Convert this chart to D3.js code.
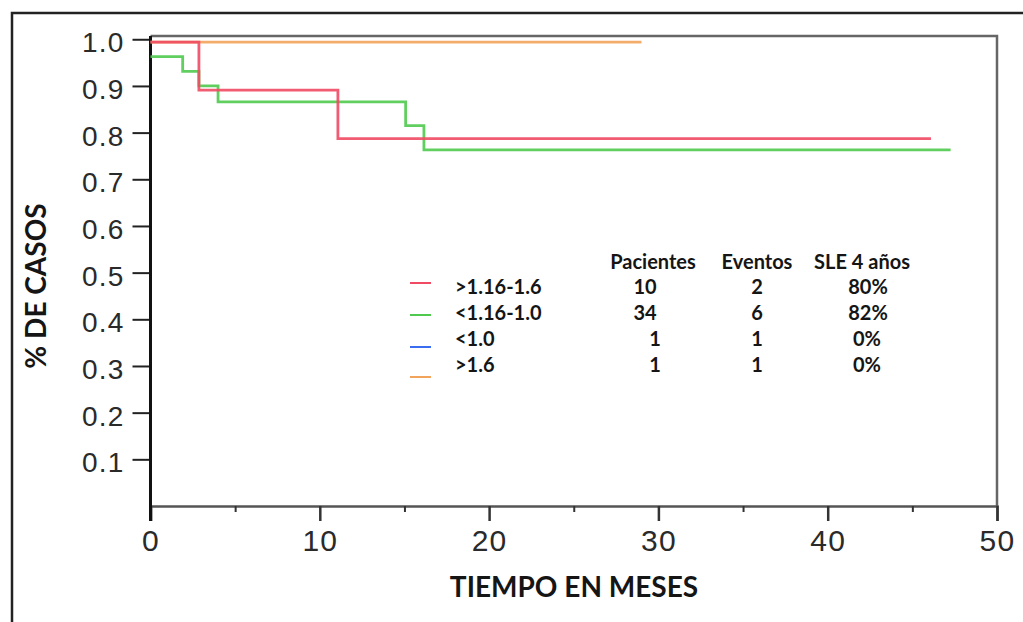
<!DOCTYPE html>
<html>
<head>
<meta charset="utf-8">
<script src="https://cdn.jsdelivr.net/npm/d3@7"></script>
<style>
  html, body { margin: 0; padding: 0; background: #fff; }
  svg { display: block; }
</style>
</head>
<body>
<svg id="chart" width="1023" height="622"></svg>
<script>
// ---------- data ----------
const seriesNames = [">1.16-1.6", "<1.16-1.0", "<1.0", ">1.6"];
const seriesColors = ["#f04a64", "#4fca4f", "#3a6df0", "#f2a35c"];
// step curves: times (months) and survival proportion after each time
const redTimes   = [0, 2.86, 11.07, 46.1];
const redValues  = [0.994, 0.891, 0.787, 0.787];
const greenTimes = [0, 1.9, 2.86, 3.99, 15.07, 16.15, 47.26];
const greenValues= [0.963, 0.931, 0.900, 0.866, 0.815, 0.763, 0.763];
const orangeTimes  = [0, 29.0];
const orangeValues = [0.994, 0.994];
// legend table
const colPacientes = [10, 34, 1, 1];
const colEventos   = [2, 6, 1, 1];
const colSLE       = ["80%", "82%", "0%", "0%"];
const tableHeaders = ["Pacientes", "Eventos", "SLE 4 años"];
const xTicks = [0, 10, 20, 30, 40, 50];
const xMinorTicks = [5, 15, 25, 35, 45];
const yTicks = [0.1, 0.2, 0.3, 0.4, 0.5, 0.6, 0.7, 0.8, 0.9, 1.0];
const xTitle = "TIEMPO EN MESES";
const yTitle = "% DE CASOS";

// ---------- layout ----------
const svg = d3.select("#chart");
const x = d3.scaleLinear().domain([0, 50]).range([150.5, 997]);
const y = d3.scaleLinear().domain([0, 1.007]).range([506, 36]);

// outer frame (top and left edges visible)
svg.append("path")
  .attr("d", `M12,622 L12,13 L1023,13`)
  .attr("fill", "none").attr("stroke", "#222").attr("stroke-width", 2.5);

// plot box top & right
svg.append("path")
  .attr("d", `M${x(0)},${y(1.007)} L${x(50)},${y(1.007)} L${x(50)},${y(0)}`)
  .attr("fill", "none").attr("stroke", "#666").attr("stroke-width", 2.5);

// x axis
const xAxis = d3.axisBottom(x).tickValues(xTicks).tickSize(15).tickPadding(9).tickFormat(d3.format("d"));
const gx = svg.append("g").attr("transform", `translate(0,${y(0)})`).call(xAxis);
gx.select(".domain").attr("stroke", "#555").attr("stroke-width", 2.5);
gx.selectAll(".tick line").attr("stroke", "#333").attr("stroke-width", 2.5);
gx.selectAll(".tick text")
  .attr("font-family", "Liberation Sans, Arial, sans-serif")
  .attr("font-size", 30).attr("fill", "#2a2a2a").attr("letter-spacing", 1.2);
const gxm = svg.append("g").attr("transform", `translate(0,${y(0)})`)
  .call(d3.axisBottom(x).tickValues(xMinorTicks).tickSize(6).tickFormat(""));
gxm.select(".domain").remove();
gxm.selectAll(".tick line").attr("stroke", "#333").attr("stroke-width", 2);

// y axis
const yAxis = d3.axisLeft(y).tickValues(yTicks).tickSize(18).tickPadding(8).tickFormat(d3.format(".1f"));
const gy = svg.append("g").attr("transform", `translate(${x(0)},0)`).call(yAxis);
gy.select(".domain").remove();
gy.append("line").attr("x1", 0).attr("x2", 0).attr("y1", y(1.007)).attr("y2", y(0) + 15)
  .attr("stroke", "#111").attr("stroke-width", 3);
gy.selectAll(".tick line").attr("stroke", "#222").attr("stroke-width", 2);
gy.selectAll(".tick text")
  .attr("font-family", "Liberation Sans, Arial, sans-serif")
  .attr("font-size", 28).attr("fill", "#2a2a2a").attr("letter-spacing", 1.2)
  .attr("dy", "0.45em");

// ---------- curves ----------
const line = d3.line().x(d => x(d[0])).y(d => y(d[1])).curve(d3.curveStepAfter);
const curves = [
  { t: orangeTimes, v: orangeValues, c: seriesColors[3] },
  { t: greenTimes,  v: greenValues,  c: seriesColors[1] },
  { t: redTimes,    v: redValues,    c: seriesColors[0] }
];
curves.forEach(s => {
  svg.append("path")
    .datum(s.t.map((t, i) => [t, s.v[i]]))
    .attr("d", line)
    .attr("fill", "none").attr("stroke", s.c)
    .attr("stroke-width", 2.8).attr("stroke-opacity", 0.9);
});

// ---------- legend table ----------
const legFont = "Lato, 'Open Sans', sans-serif";
const rowY = [294, 320, 346, 372];
const sampleY = [283, 315, 347, 377];
const headerX = [653, 757, 862];
const valX = [[645, 645, 655, 655], [757, 757, 757, 757], [868, 868, 867, 867]];
const leg = svg.append("g").attr("font-family", legFont).attr("font-weight", 700)
  .attr("font-size", 20).attr("fill", "#151515");
leg.selectAll("text.hdr").data(tableHeaders).join("text").attr("class", "hdr")
  .attr("x", (d, i) => headerX[i]).attr("y", 269).attr("text-anchor", "middle").text(d => d);
seriesNames.forEach((name, i) => {
  leg.append("line").attr("x1", 410).attr("x2", 431).attr("y1", sampleY[i]).attr("y2", sampleY[i])
    .attr("stroke", seriesColors[i]).attr("stroke-width", 2);
  leg.append("text").attr("x", 455).attr("y", rowY[i]).text(name);
  leg.append("text").attr("x", valX[0][i]).attr("y", rowY[i]).attr("text-anchor", "middle").text(colPacientes[i]);
  leg.append("text").attr("x", valX[1][i]).attr("y", rowY[i]).attr("text-anchor", "middle").text(colEventos[i]);
  leg.append("text").attr("x", valX[2][i]).attr("y", rowY[i]).attr("text-anchor", "middle").text(colSLE[i]);
});

// ---------- axis titles ----------
svg.append("text")
  .attr("x", 574).attr("y", 597).attr("text-anchor", "middle")
  .attr("font-family", legFont).attr("font-weight", 700).attr("font-size", 28).attr("fill", "#151515")
  .text(xTitle);
svg.append("text")
  .attr("transform", "translate(46,286) rotate(-90)").attr("text-anchor", "middle")
  .attr("font-family", legFont).attr("font-weight", 700).attr("font-size", 28).attr("fill", "#151515")
  .text(yTitle);
</script>
</body>
</html>
